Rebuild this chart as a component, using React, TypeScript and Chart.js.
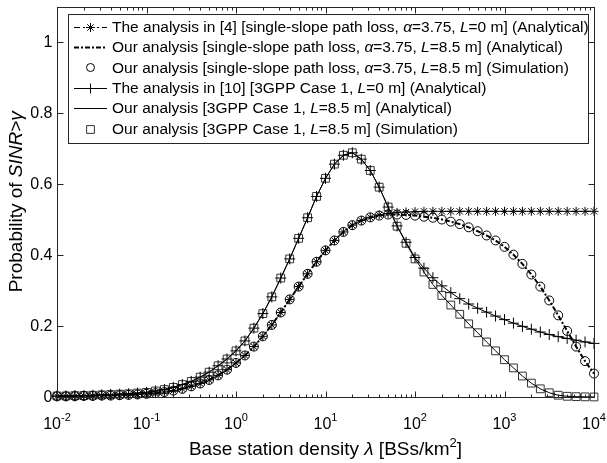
import React, { useEffect, useRef } from "react";
import { Chart, registerables } from "chart.js";

Chart.register(...registerables);

const FONT = '"Liberation Sans", Arial, Helvetica, sans-serif';
const AXIS = "#262626";

// log10 of base station density (BSs/km^2)
const LOG_LAMBDA = [
  -2.0, -1.9, -1.8, -1.7, -1.6, -1.5, -1.4, -1.3, -1.2, -1.1,
  -1.0, -0.9, -0.8, -0.7, -0.6, -0.5, -0.4, -0.3, -0.2, -0.1,
  0.0, 0.1, 0.2, 0.3, 0.4, 0.5, 0.6, 0.7, 0.8, 0.9,
  1.0, 1.1, 1.2, 1.3, 1.4, 1.5, 1.6, 1.7, 1.8, 1.9,
  2.0, 2.1, 2.2, 2.3, 2.4, 2.5, 2.6, 2.7, 2.8, 2.9,
  3.0, 3.1, 3.2, 3.3, 3.4, 3.5, 3.6, 3.7, 3.8, 3.9,
  4.0,
];

// The analysis in [4], single-slope, L=0 (analytical)
const SS_L0 = [
  0.002, 0.002, 0.002, 0.003, 0.003, 0.004, 0.004, 0.005, 0.006, 0.007,
  0.009, 0.011, 0.014, 0.018, 0.023, 0.030, 0.038, 0.048, 0.061, 0.077,
  0.096, 0.117, 0.142, 0.171, 0.203, 0.238, 0.275, 0.311, 0.347, 0.381,
  0.413, 0.441, 0.465, 0.484, 0.497, 0.506, 0.513, 0.517, 0.520, 0.521,
  0.522, 0.523, 0.523, 0.523, 0.523, 0.523, 0.523, 0.523, 0.523, 0.523,
  0.523, 0.523, 0.523, 0.523, 0.523, 0.523, 0.523, 0.523, 0.523, 0.523,
  0.523,
];

// Our analysis, single-slope, L=8.5 m (analytical)
const SS_L85_ANA = [
  0.002, 0.002, 0.002, 0.003, 0.003, 0.004, 0.004, 0.005, 0.006, 0.007,
  0.009, 0.011, 0.014, 0.018, 0.023, 0.030, 0.038, 0.048, 0.061, 0.077,
  0.096, 0.117, 0.142, 0.171, 0.203, 0.238, 0.275, 0.311, 0.347, 0.381,
  0.413, 0.441, 0.465, 0.484, 0.497, 0.506, 0.511, 0.514, 0.514, 0.513,
  0.511, 0.508, 0.505, 0.500, 0.494, 0.487, 0.478, 0.467, 0.455, 0.441,
  0.423, 0.401, 0.375, 0.345, 0.311, 0.272, 0.230, 0.186, 0.142, 0.101,
  0.066,
];

// Our analysis, single-slope, L=8.5 m (simulation)
const SS_L85_SIM = [
  0.002, 0.002, 0.002, 0.003, 0.003, 0.004, 0.004, 0.005, 0.006, 0.007,
  0.009, 0.011, 0.014, 0.018, 0.023, 0.030, 0.038, 0.048, 0.061, 0.077,
  0.096, 0.117, 0.142, 0.171, 0.203, 0.238, 0.275, 0.311, 0.347, 0.381,
  0.413, 0.441, 0.465, 0.484, 0.497, 0.506, 0.511, 0.514, 0.514, 0.513,
  0.511, 0.508, 0.505, 0.500, 0.494, 0.487, 0.478, 0.467, 0.455, 0.441,
  0.423, 0.401, 0.375, 0.345, 0.311, 0.272, 0.230, 0.186, 0.142, 0.101,
  0.066,
];

// The analysis in [10], 3GPP Case 1, L=0 (analytical)
const GPP_L0 = [
  0.003, 0.003, 0.004, 0.004, 0.005, 0.006, 0.007, 0.008, 0.009, 0.011,
  0.013, 0.017, 0.021, 0.027, 0.035, 0.044, 0.056, 0.070, 0.088, 0.107,
  0.130, 0.158, 0.194, 0.235, 0.282, 0.335, 0.389, 0.447, 0.505, 0.565,
  0.616, 0.656, 0.681, 0.688, 0.670, 0.638, 0.591, 0.535, 0.482, 0.436,
  0.393, 0.363, 0.336, 0.313, 0.294, 0.277, 0.262, 0.250, 0.239, 0.228,
  0.218, 0.208, 0.199, 0.191, 0.183, 0.176, 0.170, 0.165, 0.160, 0.155,
  0.151,
];

// Our analysis, 3GPP Case 1, L=8.5 m (analytical)
const GPP_L85_ANA = [
  0.003, 0.003, 0.004, 0.004, 0.005, 0.006, 0.007, 0.008, 0.009, 0.011,
  0.013, 0.017, 0.021, 0.027, 0.035, 0.044, 0.056, 0.070, 0.088, 0.107,
  0.130, 0.158, 0.194, 0.235, 0.282, 0.335, 0.389, 0.447, 0.505, 0.565,
  0.616, 0.656, 0.681, 0.688, 0.670, 0.638, 0.591, 0.535, 0.481, 0.433,
  0.389, 0.352, 0.317, 0.286, 0.259, 0.233, 0.206, 0.181, 0.155, 0.130,
  0.105, 0.082, 0.059, 0.039, 0.023, 0.012, 0.005, 0.002, 0.001, 0.0004,
  0.0001,
];

// Our analysis, 3GPP Case 1, L=8.5 m (simulation)
const GPP_L85_SIM = [
  0.003, 0.003, 0.004, 0.004, 0.005, 0.006, 0.007, 0.008, 0.009, 0.011,
  0.013, 0.017, 0.021, 0.027, 0.035, 0.044, 0.056, 0.070, 0.088, 0.107,
  0.130, 0.158, 0.194, 0.235, 0.282, 0.335, 0.389, 0.447, 0.505, 0.565,
  0.616, 0.656, 0.681, 0.688, 0.670, 0.638, 0.591, 0.535, 0.481, 0.433,
  0.389, 0.352, 0.317, 0.286, 0.259, 0.233, 0.206, 0.181, 0.155, 0.130,
  0.105, 0.082, 0.059, 0.039, 0.023, 0.012, 0.005, 0.002, 0.001, 0.0004,
  0.0001,
];

const X_TICK_EXPONENTS = [-2, -1, 0, 1, 2, 3, 4];
const Y_TICKS = [0, 0.2, 0.4, 0.6, 0.8, 1];
const Y_TICK_LABELS = ["0", "0.2", "0.4", "0.6", "0.8", "1"];

type Seg = { t: string; it?: boolean; sup?: boolean };

const LEGEND_LABELS: Seg[][] = [
  [
    { t: "The analysis in [4] [single-slope path loss, " },
    { t: "\u03B1", it: true },
    { t: "=3.75, " },
    { t: "L", it: true },
    { t: "=0 m] (Analytical)" },
  ],
  [
    { t: "Our analysis [single-slope path loss, " },
    { t: "\u03B1", it: true },
    { t: "=3.75, " },
    { t: "L", it: true },
    { t: "=8.5 m] (Analytical)" },
  ],
  [
    { t: "Our analysis [single-slope path loss, " },
    { t: "\u03B1", it: true },
    { t: "=3.75, " },
    { t: "L", it: true },
    { t: "=8.5 m] (Simulation)" },
  ],
  [
    { t: "The analysis in [10] [3GPP Case 1, " },
    { t: "L", it: true },
    { t: "=0 m] (Analytical)" },
  ],
  [
    { t: "Our analysis [3GPP Case 1, " },
    { t: "L", it: true },
    { t: "=8.5 m] (Analytical)" },
  ],
  [
    { t: "Our analysis [3GPP Case 1, " },
    { t: "L", it: true },
    { t: "=8.5 m] (Simulation)" },
  ],
];

const X_TITLE: Seg[] = [
  { t: "Base station density " },
  { t: "\u03BB", it: true },
  { t: " [BSs/km" },
  { t: "2", sup: true },
  { t: "]" },
];

const Y_TITLE: Seg[] = [
  { t: "Probability of " },
  { t: "SINR", it: true },
  { t: ">" },
  { t: "\u03B3", it: true },
];

function segFont(s: Seg, size: number) {
  const sz = s.sup ? Math.round(size * 0.7) : size;
  return `${s.it ? "italic " : ""}${sz}px ${FONT}`;
}

function drawRich(
  ctx: CanvasRenderingContext2D,
  segs: Seg[],
  x: number,
  y: number,
  size: number,
  align: "left" | "center"
) {
  let total = 0;
  const widths = segs.map((s) => {
    ctx.font = segFont(s, size);
    const w = ctx.measureText(s.t).width;
    total += w;
    return w;
  });
  let cx = align === "center" ? x - total / 2 : x;
  ctx.textAlign = "left";
  segs.forEach((s, i) => {
    ctx.font = segFont(s, size);
    ctx.fillText(s.t, cx, s.sup ? y - size * 0.38 : y);
    cx += widths[i];
  });
}

type MarkerKind = "star" | "circle" | "cross" | "rect" | "none";

function drawMarker(ctx: CanvasRenderingContext2D, kind: MarkerKind, x: number, y: number, r: number) {
  ctx.beginPath();
  if (kind === "circle") {
    ctx.arc(x, y, r, 0, Math.PI * 2);
  } else if (kind === "rect") {
    const h = r * Math.SQRT1_2;
    ctx.rect(x - h, y - h, 2 * h, 2 * h);
  } else if (kind === "cross") {
    ctx.moveTo(x - r, y);
    ctx.lineTo(x + r, y);
    ctx.moveTo(x, y - r);
    ctx.lineTo(x, y + r);
  } else if (kind === "star") {
    ctx.moveTo(x - r, y);
    ctx.lineTo(x + r, y);
    ctx.moveTo(x, y - r);
    ctx.lineTo(x, y + r);
    const d = r * Math.SQRT1_2;
    ctx.moveTo(x - d, y - d);
    ctx.lineTo(x + d, y + d);
    ctx.moveTo(x - d, y + d);
    ctx.lineTo(x + d, y - d);
  }
  ctx.stroke();
}

const LEGEND_STYLE: { line: boolean; width: number; dash: number[]; marker: MarkerKind; r: number; color: string }[] = [
  { line: true, width: 1, dash: [6, 3, 2, 3], marker: "star", r: 4.5, color: "#000" },
  { line: true, width: 2, dash: [5, 2, 2, 2], marker: "none", r: 0, color: "#000" },
  { line: false, width: 1, dash: [], marker: "circle", r: 4, color: "#000" },
  { line: true, width: 1, dash: [], marker: "cross", r: 5, color: "#000" },
  { line: true, width: 1, dash: [], marker: "none", r: 0, color: "#000" },
  { line: false, width: 1, dash: [], marker: "rect", r: 5.5, color: "#333" },
];

const decorPlugin = {
  id: "decor",
  afterDatasetsDraw(chart: any) {
    const { ctx, chartArea: a } = chart;
    const xs = chart.scales.x;
    const ys = chart.scales.y;
    ctx.save();
    ctx.strokeStyle = AXIS;
    ctx.lineWidth = 1;
    ctx.setLineDash([]);
    const L = Math.round(a.left) + 0.5;
    const R = Math.round(a.right) + 0.5;
    const T = Math.round(a.top) + 0.5;
    const B = Math.round(a.bottom) + 0.5;
    ctx.strokeRect(L, T, R - L, B - T);

    // x ticks (log major + minor), inward, bottom and top
    ctx.beginPath();
    for (let e = -2; e <= 4; e++) {
      for (let m = 1; m <= 9; m++) {
        if (e === 4 && m > 1) break;
        const v = m * Math.pow(10, e);
        const px = Math.round(xs.getPixelForValue(v)) + 0.5;
        const len = m === 1 ? 6 : 3;
        ctx.moveTo(px, B);
        ctx.lineTo(px, B - len);
        ctx.moveTo(px, T);
        ctx.lineTo(px, T + len);
      }
    }
    // y ticks
    Y_TICKS.forEach((v) => {
      const py = Math.round(ys.getPixelForValue(v)) + 0.5;
      ctx.moveTo(L, py);
      ctx.lineTo(L + 6, py);
      ctx.moveTo(R, py);
      ctx.lineTo(R - 6, py);
    });
    ctx.stroke();

    // tick labels
    ctx.fillStyle = "#000";
    ctx.textBaseline = "alphabetic";
    X_TICK_EXPONENTS.forEach((e) => {
      const px = xs.getPixelForValue(Math.pow(10, e));
      ctx.font = `16px ${FONT}`;
      const w1 = ctx.measureText("10").width;
      ctx.font = `11px ${FONT}`;
      const w2 = ctx.measureText(String(e)).width;
      const start = px - (w1 + w2) / 2;
      ctx.textAlign = "left";
      ctx.font = `16px ${FONT}`;
      ctx.fillText("10", start, B + 31);
      ctx.font = `11px ${FONT}`;
      ctx.fillText(String(e), start + w1, B + 23);
    });
    ctx.textAlign = "right";
    ctx.textBaseline = "middle";
    ctx.font = `16px ${FONT}`;
    Y_TICKS.forEach((v, i) => {
      const py = ys.getPixelForValue(v);
      ctx.fillText(Y_TICK_LABELS[i], L - 5, py + 1);
    });

    // axis titles
    ctx.textBaseline = "alphabetic";
    drawRich(ctx, X_TITLE, (a.left + a.right) / 2, B + 57, 19, "center");
    ctx.save();
    ctx.translate(22, (a.top + a.bottom) / 2);
    ctx.rotate(-Math.PI / 2);
    drawRich(ctx, Y_TITLE, 0, 0, 19, "center");
    ctx.restore();
    ctx.restore();
  },
  afterDraw(chart: any) {
    const { ctx } = chart;
    ctx.save();
    // legend box
    const bx = 68.5, by = 14.5, bw = 520, bh = 129;
    ctx.fillStyle = "#fff";
    ctx.fillRect(bx, by, bw, bh);
    ctx.strokeStyle = AXIS;
    ctx.lineWidth = 1;
    ctx.setLineDash([]);
    ctx.strokeRect(bx, by, bw, bh);
    const rowH = 20.4;
    LEGEND_LABELS.forEach((segs, i) => {
      const cy = 26.5 + i * rowH;
      const st = LEGEND_STYLE[i];
      ctx.strokeStyle = st.color;
      if (st.line) {
        ctx.lineWidth = st.width;
        ctx.setLineDash(st.dash);
        ctx.beginPath();
        ctx.moveTo(74, Math.round(cy) + 0.5);
        ctx.lineTo(107, Math.round(cy) + 0.5);
        ctx.stroke();
      }
      ctx.setLineDash([]);
      ctx.lineWidth = 1;
      if (st.marker !== "none") drawMarker(ctx, st.marker, 90.5, Math.round(cy) + 0.5, st.r);
      ctx.fillStyle = "#000";
      ctx.textBaseline = "middle";
      drawRich(ctx, segs, 112, cy + 1, 15.5, "left");
    });
    ctx.restore();
  },
};

function toPoints(vals: number[]) {
  return LOG_LAMBDA.map((e, i) => ({ x: Math.pow(10, e), y: vals[i] }));
}

export default function App() {
  const ref = useRef<HTMLCanvasElement | null>(null);

  useEffect(() => {
    document.body.style.margin = "0";
    const canvas = ref.current;
    if (!canvas) return;
    const chart = new Chart(canvas, {
      type: "line",
      data: {
        datasets: [
          {
            label: "SS L0",
            data: toPoints(SS_L0),
            borderColor: "#000",
            borderWidth: 1,
            borderDash: [6, 3, 2, 3],
            pointStyle: "star",
            pointRadius: 4.5,
            pointBorderColor: "#000",
            pointBackgroundColor: "transparent",
            pointBorderWidth: 1,
            clip: false,
          },
          {
            label: "SS L8.5 ana",
            data: toPoints(SS_L85_ANA),
            borderColor: "#000",
            borderWidth: 2,
            borderDash: [5, 2, 2, 2],
            pointRadius: 0,
            clip: false,
          },
          {
            label: "SS L8.5 sim",
            data: toPoints(SS_L85_SIM),
            showLine: false,
            pointStyle: "circle",
            pointRadius: 4.5,
            pointBorderColor: "#000",
            pointBackgroundColor: "transparent",
            pointBorderWidth: 1,
            clip: false,
          },
          {
            label: "3GPP L0",
            data: toPoints(GPP_L0),
            borderColor: "#000",
            borderWidth: 1,
            pointStyle: "cross",
            pointRadius: 5.5,
            pointBorderColor: "#000",
            pointBackgroundColor: "transparent",
            pointBorderWidth: 1,
            clip: false,
          },
          {
            label: "3GPP L8.5 ana",
            data: toPoints(GPP_L85_ANA),
            borderColor: "#000",
            borderWidth: 1,
            pointRadius: 0,
            clip: false,
          },
          {
            label: "3GPP L8.5 sim",
            data: toPoints(GPP_L85_SIM),
            showLine: false,
            pointStyle: "rect",
            pointRadius: 5.5,
            pointBorderColor: "#333",
            pointBackgroundColor: "transparent",
            pointBorderWidth: 1,
            clip: false,
          },
        ],
      },
      options: {
        animation: false,
        responsive: false,
        maintainAspectRatio: false,
        devicePixelRatio: 1,
        layout: { padding: { top: 3, right: 13, left: 0, bottom: 0 } },
        plugins: { legend: { display: false }, tooltip: { enabled: false }, title: { display: false } },
        elements: { line: { tension: 0 } },
        scales: {
          x: {
            type: "logarithmic",
            min: 0.01,
            max: 10000,
            grid: { display: false },
            border: { display: false },
            ticks: { display: false },
            afterFit: (s: any) => {
              s.height = 66;
            },
          },
          y: {
            type: "linear",
            min: 0,
            max: 1.1,
            grid: { display: false },
            border: { display: false },
            ticks: { display: false },
            afterFit: (s: any) => {
              s.width = 57;
            },
          },
        },
      },
      plugins: [decorPlugin],
    } as any);
    return () => chart.destroy();
  }, []);

  return (
    <div style={{ width: 607, height: 463, background: "#fff" }}>
      <canvas ref={ref} width={607} height={463} style={{ display: "block" }} />
    </div>
  );
}
